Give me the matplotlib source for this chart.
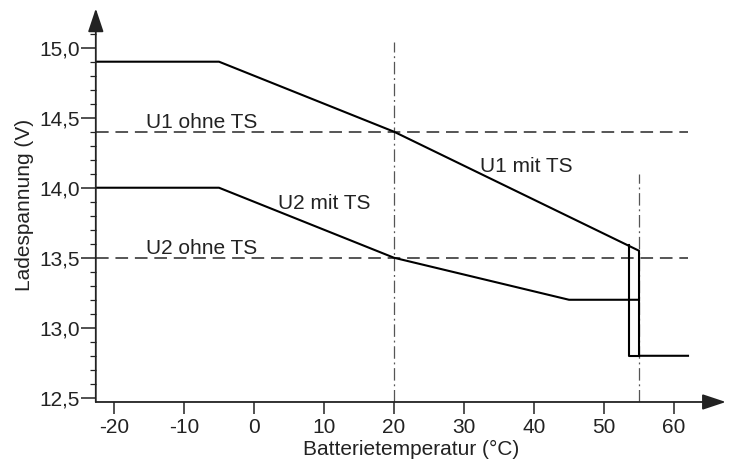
import matplotlib.pyplot as plt
import numpy as np

plt.rcParams['font.family'] = ['Liberation Sans', 'DejaVu Sans']

# Kennlinien (Temperatur in °C, Spannung in V)
u1_mit_x = [-22.6, -5, 20, 55, 55, 62]
u1_mit_y = [14.9, 14.9, 14.4, 13.55, 12.8, 12.8]
u2_mit_x = [-22.6, -5, 20, 45, 55]
u2_mit_y = [14.0, 14.0, 13.5, 13.2, 13.2]
hyst_x = [53.5, 53.5, 55]
hyst_y = [13.59, 12.8, 12.8]

u1_ohne = 14.4
u2_ohne = 13.5
ohne_x = [-22.6, 62]

# senkrechte Hilfslinien
vlines_x = [20, 55]
vlines_top = [15.04, 14.1]

x_ticks = [-20, -10, 0, 10, 20, 30, 40, 50, 60]
y_ticks = [12.5, 13.0, 13.5, 14.0, 14.5, 15.0]
y_ticklabels = ['12,5', '13,0', '13,5', '14,0', '14,5', '15,0']
y_minor = np.arange(12.5, 15.11, 0.1)

x_min, x_max = -22.6, 67.4
y_min, y_max = 12.47, 15.28

fig = plt.figure(figsize=(7.33, 4.61), dpi=100)
ax = fig.add_axes([0.1307, 0.128, 0.8595, 0.8536])
ax.set_xlim(x_min, x_max)
ax.set_ylim(y_min, y_max)

axis_col = '#222222'
for s in ax.spines.values():
    s.set_visible(False)

# Achsen mit Pfeilspitzen
arrow = dict(arrowstyle='-|>,head_length=0.72,head_width=0.24', color=axis_col,
             lw=1.3, mutation_scale=20, shrinkA=0, shrinkB=0)
ax.annotate('', xy=(0, 1), xytext=(0, 0), xycoords='axes fraction',
            textcoords='axes fraction', arrowprops=arrow, annotation_clip=False)
ax.annotate('', xy=(1, 0), xytext=(0, 0), xycoords='axes fraction',
            textcoords='axes fraction', arrowprops=arrow, annotation_clip=False)

# Hilfslinien
for vx, vt in zip(vlines_x, vlines_top):
    ax.plot([vx, vx], [y_min, vt], color='#555555', lw=0.9, dashes=(10, 3, 1.5, 3))

ax.plot(ohne_x, [u1_ohne, u1_ohne], color='#555555', lw=1.4, dashes=(6.5, 3.5))
ax.plot(ohne_x, [u2_ohne, u2_ohne], color='#555555', lw=1.4, dashes=(6.5, 3.5))

ax.plot(u1_mit_x, u1_mit_y, color='black', lw=1.5)
ax.plot(u2_mit_x, u2_mit_y, color='black', lw=1.5)
ax.plot(hyst_x, hyst_y, color='black', lw=1.5)

fs = 15
ax.text(-15.4, 14.43, 'U1 ohne TS', fontsize=fs, va='baseline', color='#222222')
ax.text(-15.4, 13.53, 'U2 ohne TS', fontsize=fs, va='baseline', color='#222222')
ax.text(32.3, 14.114, 'U1 mit TS', fontsize=fs, va='baseline', color='#222222')
ax.text(3.4, 13.846, 'U2 mit TS', fontsize=fs, va='baseline', color='#222222')

ax.set_xticks(x_ticks)
ax.set_xticklabels([str(t) for t in x_ticks])
ax.set_yticks(y_ticks)
ax.set_yticklabels(y_ticklabels)
ax.set_yticks(y_minor, minor=True)
ax.tick_params(axis='x', direction='out', length=8.5, width=1.1, color=axis_col,
               labelsize=fs, pad=3, labelcolor='#222222')
ax.tick_params(axis='y', which='major', direction='out', length=10.5, width=1.1,
               color=axis_col, labelsize=fs, pad=1, labelcolor='#222222')
ax.tick_params(axis='y', which='minor', direction='out', length=4.5, width=0.9,
               color=axis_col)

ax.set_xlabel('Batterietemperatur (°C)', fontsize=fs, color='#222222', labelpad=2)
ax.set_ylabel('Ladespannung (V)', fontsize=fs, color='#222222', labelpad=4)

fig.savefig('out.png', dpi=100)
